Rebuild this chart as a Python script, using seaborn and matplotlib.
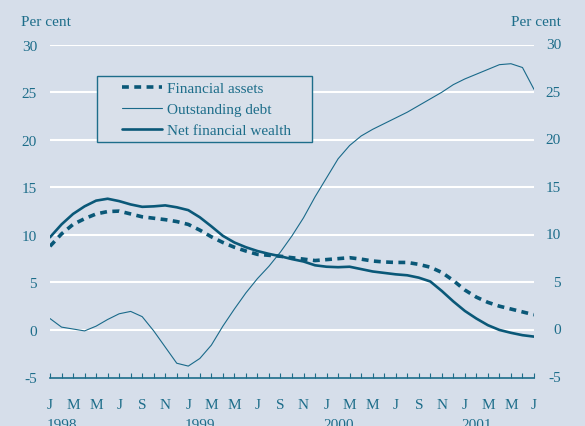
import matplotlib

matplotlib.use("Agg")
import matplotlib.pyplot as plt
import matplotlib.patches as mpatches
import matplotlib.transforms as mtransforms
import pandas as pd
import seaborn as sns

# monthly observations, January 1998 to July 2001
MONTH_LETTERS = ["J", "F", "M", "A", "M", "J", "J", "A", "S", "O", "N", "D"]
YEARS = ["1998", "1999", "2000", "2001"]
Y_TICKS = [-5, 0, 5, 10, 15, 20, 25, 30]

financial_assets = [
    8.8, 10.1, 11.1, 11.7, 12.2, 12.45, 12.5, 12.2, 11.9, 11.75, 11.6, 11.4,
    11.1, 10.5, 9.8, 9.2, 8.7, 8.3, 7.95, 7.85, 7.75, 7.6, 7.45, 7.3,
    7.4, 7.5, 7.6, 7.45, 7.25, 7.15, 7.1, 7.1, 6.9, 6.6, 6.05, 5.2,
    4.2, 3.45, 2.9, 2.5, 2.2, 1.9, 1.6,
]
outstanding_debt = [
    1.2, 0.3, 0.1, -0.1, 0.4, 1.1, 1.7, 1.95, 1.4, -0.1, -1.8, -3.5,
    -3.8, -3.0, -1.6, 0.4, 2.2, 3.9, 5.4, 6.7, 8.2, 9.9, 11.8, 14.0,
    16.0, 18.0, 19.4, 20.4, 21.1, 21.7, 22.3, 22.9, 23.6, 24.3, 25.0, 25.8,
    26.4, 26.9, 27.4, 27.9, 28.0, 27.6, 25.3,
]
net_financial_wealth = [
    9.75, 11.1, 12.2, 13.0, 13.6, 13.8, 13.55, 13.2, 12.95, 13.0, 13.1, 12.9,
    12.6, 11.85, 10.9, 9.9, 9.2, 8.7, 8.3, 8.0, 7.75, 7.45, 7.2, 6.8,
    6.65, 6.6, 6.65, 6.4, 6.15, 6.0, 5.85, 5.75, 5.5, 5.1, 4.1, 3.0,
    2.0, 1.2, 0.5, 0.0, -0.3, -0.55, -0.7,
]

BG = "#d6deea"
TEXT = "#1d6d8a"
LINE = "#0a5878"
FS = 11

df = pd.DataFrame(
    {
        "month": range(len(financial_assets)),
        "Financial assets": financial_assets,
        "Outstanding debt": outstanding_debt,
        "Net financial wealth": net_financial_wealth,
    }
)

sns.set_theme(style="white")
plt.rcParams["font.family"] = ["Liberation Serif", "DejaVu Serif"]
plt.rcParams["axes.unicode_minus"] = False

fig = plt.figure(figsize=(5.85, 4.27), dpi=100, facecolor=BG)
ax = fig.add_axes([50 / 585, 48.5 / 427, 484 / 585, 332.8 / 427])
ax.set_facecolor(BG)

sns.lineplot(data=df, x="month", y="Financial assets", ax=ax, color=LINE,
             linewidth=2.6, label="Financial assets")
ax.lines[-1].set_dashes((1.9, 1.5))
sns.lineplot(data=df, x="month", y="Outstanding debt", ax=ax, color="#1a6a8a",
             linewidth=0.8, label="Outstanding debt")
sns.lineplot(data=df, x="month", y="Net financial wealth", ax=ax, color=LINE,
             linewidth=1.9, label="Net financial wealth")

ax.set_xlim(0, 42)
ax.set_ylim(-5, 30)
ax.set_yticks(Y_TICKS)
for v in Y_TICKS[1:]:
    ax.axhline(v, color="white", linewidth=1.5, zorder=0)

n = len(df)
ax.set_xticks(range(n))
ax.set_xticklabels([MONTH_LETTERS[m % 12] if m % 2 == 0 else "" for m in range(n)])
ax.tick_params(axis="x", bottom=True, direction="in", length=3.5, width=0.8,
               color=TEXT, labelcolor=TEXT, labelsize=FS, pad=14.5)
ax.tick_params(axis="y", length=0, labelcolor=TEXT, labelsize=FS,
               left=False, right=False, labelleft=True, pad=9.4)

ax.set_xlabel("")
ax.set_ylabel("")
for side in ["left", "right", "top"]:
    ax.spines[side].set_visible(False)
ax.spines["bottom"].set_color(TEXT)
ax.spines["bottom"].set_linewidth(1.2)

# right-hand labels, right aligned a fixed distance from the axis
right_trans = ax.get_yaxis_transform() + mtransforms.ScaledTranslation(
    27 / 100, 0, fig.dpi_scale_trans)
for v in Y_TICKS:
    ax.text(1.0, v, str(v), transform=right_trans, ha="right", va="center",
            color=TEXT, fontsize=FS)

year_trans = mtransforms.blended_transform_factory(ax.transData, fig.transFigure)
for i, year in enumerate(YEARS):
    ax.text(i * 12 - 0.3, 8 / 427, year, transform=year_trans, ha="left",
            va="top", color=TEXT, fontsize=FS)

fig.text(21 / 585, 1 - 22 / 427, "Per cent", ha="left", va="center",
         color=TEXT, fontsize=FS)
fig.text(561 / 585, 1 - 22 / 427, "Per cent", ha="right", va="center",
         color=TEXT, fontsize=FS)

# legend box drawn separately so its padding matches the original
box = mpatches.Rectangle((97 / 585, 1 - 143 / 427), 215 / 585, 66 / 427,
                         transform=fig.transFigure, facecolor="#d9e0ea",
                         edgecolor=TEXT, linewidth=1.0, zorder=3)
ax.add_patch(box)
leg = ax.legend(loc="upper left", bbox_to_anchor=(122 / 585, 1 - 82.5 / 427),
                bbox_transform=fig.transFigure, frameon=False, fontsize=FS,
                handlelength=2.6, borderpad=0, labelspacing=0.48,
                handletextpad=0.33, borderaxespad=0)
leg.set_zorder(4)
for t in leg.get_texts():
    t.set_color(TEXT)

fig.savefig("out.png", dpi=100, facecolor=BG)
